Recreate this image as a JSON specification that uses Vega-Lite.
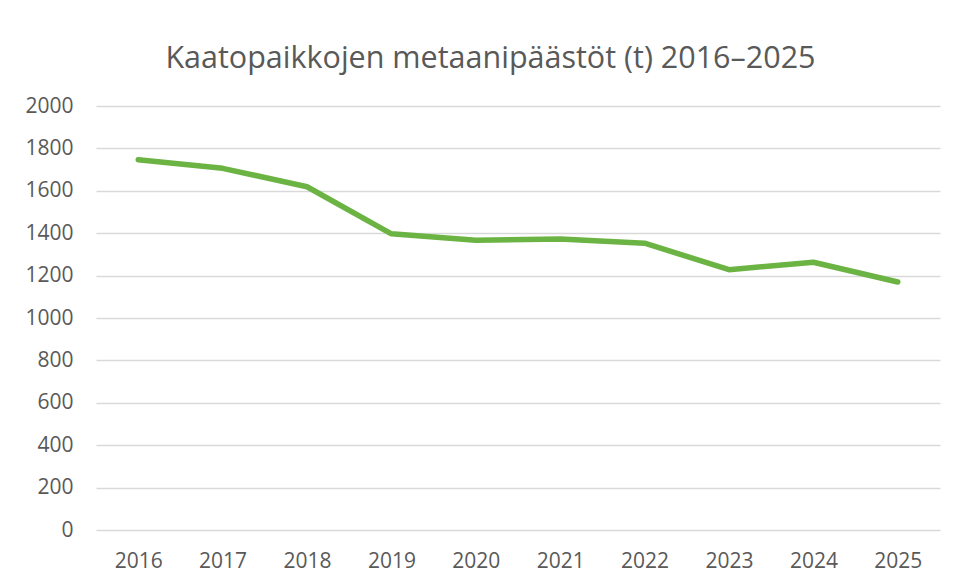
{
  "$schema": "https://vega.github.io/schema/vega-lite/v6.json",
  "autosize": "none",
  "width": 844,
  "height": 424,
  "padding": {"left": 96, "top": 106, "right": 17, "bottom": 57},
  "background": "white",
  "title": {
    "text": "Kaatopaikkojen metaanipäästöt (t) 2016–2025",
    "font": "Open Sans",
    "fontSize": 30.5,
    "fontWeight": "normal",
    "color": "#595959",
    "anchor": "middle",
    "frame": "bounds",
    "baseline": "alphabetic",
    "offset": -3,
    "dx": 8
  },
  "config": {
    "view": {"stroke": null},
    "axis": {
      "labelFont": "Open Sans",
      "labelFontSize": 21,
      "labelColor": "#595959",
      "domain": false,
      "ticks": false,
      "title": null
    }
  },
  "data": {
    "values": [
      {"year": "2016", "value": 1746},
      {"year": "2017", "value": 1706},
      {"year": "2018", "value": 1619},
      {"year": "2019", "value": 1397},
      {"year": "2020", "value": 1367},
      {"year": "2021", "value": 1373},
      {"year": "2022", "value": 1353},
      {"year": "2023", "value": 1228},
      {"year": "2024", "value": 1263},
      {"year": "2025", "value": 1170}
    ]
  },
  "mark": {"type": "line", "color": "#6bb342", "strokeWidth": 5.5, "strokeCap": "round", "strokeJoin": "round"},
  "encoding": {
    "x": {
      "field": "year",
      "type": "ordinal",
      "scale": {"type": "point", "padding": 0.5},
      "axis": {"labelAngle": 0, "labelPadding": 20, "grid": false}
    },
    "y": {
      "field": "value",
      "type": "quantitative",
      "scale": {"domain": [0, 2000], "nice": false},
      "axis": {"values": [0, 200, 400, 600, 800, 1000, 1200, 1400, 1600, 1800, 2000], "format": "d", "labelPadding": 23, "grid": true, "gridColor": "#d9d9d9", "gridWidth": 1.5}
    }
  }
}
